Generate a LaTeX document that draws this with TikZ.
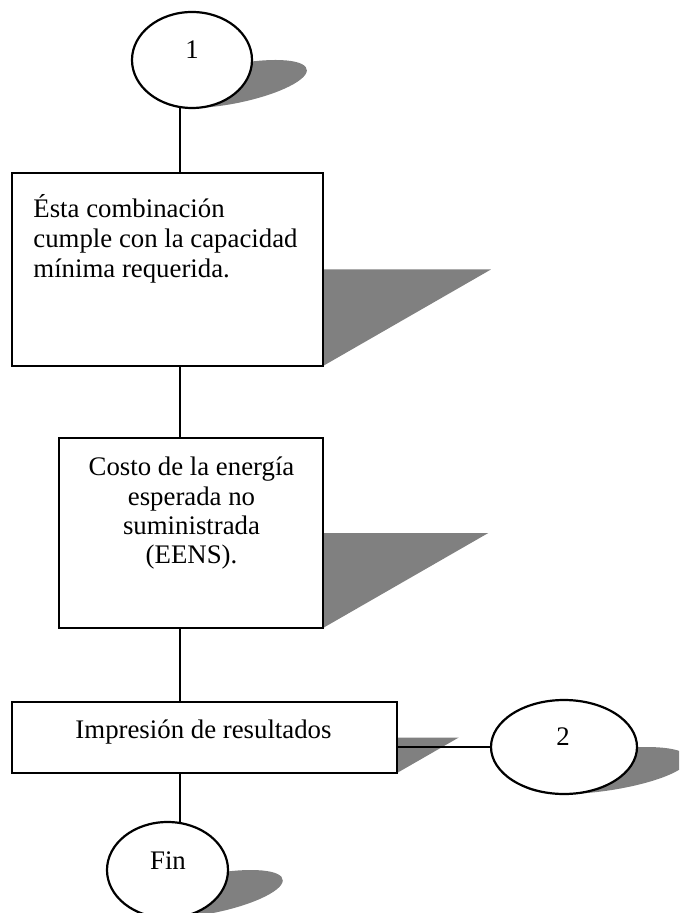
\documentclass[tikz,border=0pt]{standalone}
\usepackage{fontspec}
\setmainfont{Liberation Serif}
\usetikzlibrary{shapes.geometric}
\definecolor{shd}{RGB}{128,128,128}
\newcommand\EllShadow[4]{%
  \begin{scope}[shift={({#1},{#2+#4})}, cm={1,0,0.87,0.5,(0,0)}]
    \fill[shd] (0,{-#4}) ellipse [x radius=#3, y radius=#4];
  \end{scope}}
\newcommand\BoxShadow[4]{%
  \begin{scope}[shift={(0,{#4})}, cm={1,0,0.87,0.5,(0,0)}]
    \fill[shd] ({#1},{#2-#4}) rectangle ({#3},0);
  \end{scope}}
\begin{document}
\begin{tikzpicture}[x=0.5pt,y=-0.5pt,
  shapebox/.style={draw, fill=white, line width=1.1pt, rectangle, inner sep=0pt, outer sep=0pt},
  oval/.style={draw, fill=white, line width=1.1pt, ellipse, inner sep=0pt, outer sep=0pt},
  txt/.style={inner sep=0pt, font=\fontsize{13.4}{15}\selectfont},
  conn/.style={line width=1pt}]
\useasboundingbox (0,0) rectangle (679,913);
\clip (0,0) rectangle (679,913);

% shadows
\EllShadow{192}{60}{60}{48}
\BoxShadow{12}{173}{323}{366}
\BoxShadow{59}{438}{323}{628}
\BoxShadow{12}{702}{397}{773}
\EllShadow{564}{747}{73}{47}
\EllShadow{167.5}{870}{60.5}{48}

% shapes
\node[oval, minimum width=60pt, minimum height=48pt] (e1) at (192,60) {};
\node[shapebox, minimum width=155.5pt, minimum height=96.5pt] (b1) at (167.5,269.5) {};
\node[shapebox, minimum width=132pt, minimum height=95pt] (b2) at (191,533) {};
\node[shapebox, minimum width=192.5pt, minimum height=35.5pt] (b3) at (204.5,737.5) {};
\node[oval, minimum width=73pt, minimum height=47pt] (e2) at (564,747) {};
\node[oval, minimum width=60.5pt, minimum height=48pt] (e3) at (167.5,870) {};

% connectors
\coordinate (spine) at (179.5,0);
\draw[conn] (spine |- e1.south) -- (spine |- b1.north);
\draw[conn] (spine |- b1.south) -- (spine |- b2.north);
\draw[conn] (spine |- b2.south) -- (spine |- b3.north);
\draw[conn] (spine |- b3.south) -- (spine |- e3.north);
\draw[conn] (b3.east |- e2.west) -- (e2.west);

% texts
\node[txt, anchor=base] (t1) at (192,59) {1};
\node[txt, anchor=base west] (ta) at (33,218) {Ésta combinación};
\node[txt, anchor=base west] (tb) at (33,247.7) {cumple con la capacidad};
\node[txt, anchor=base west] (tc) at (33,277.4) {mínima requerida.};
\node[txt, anchor=base] (td) at (191.5,475) {Costo de la energía};
\node[txt, anchor=base] (te) at (191.5,505) {esperada no};
\node[txt, anchor=base] (tf) at (191.5,534) {suministrada};
\node[txt, anchor=base] (tg) at (191.5,563.5) {(EENS).};
\node[txt, anchor=base] (th) at (203.5,738) {Impresión de resultados};
\node[txt, anchor=base] (t2) at (563,745) {2};
\node[txt, anchor=base] (tfin) at (168,869) {Fin};
\end{tikzpicture}
\end{document}
